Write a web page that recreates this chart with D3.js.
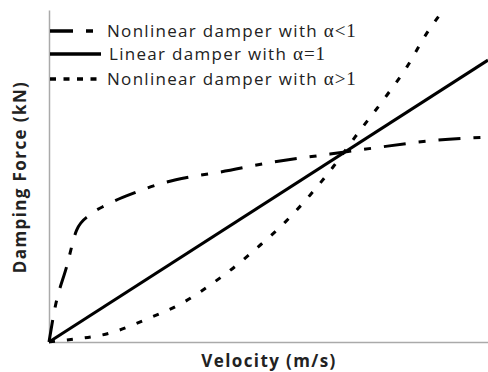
<!DOCTYPE html>
<html>
<head>
<meta charset="utf-8">
<script src="https://cdn.jsdelivr.net/npm/d3@7"></script>
<style>
  body { margin: 0; background: #fff; }
  text { font-family: "Open Sans", "Noto Sans", sans-serif; fill: #222; }
  .title { font-weight: bold; font-size: 17px; letter-spacing: 1.4px; }
  .legend { font-size: 17px; letter-spacing: 1.3px; }
  .alpha { font-family: "Liberation Serif", "DejaVu Serif", serif; font-size: 19px; letter-spacing: 1px; }
  .axis path { stroke: #aaa; stroke-width: 1.5; }
</style>
</head>
<body>
<script>
// velocity (0..1 of axis) vs damping force (0..1 of axis)
var vel_lt1   = [0, 0.014, 0.040, 0.063, 0.093, 0.131, 0.200, 0.260, 0.321, 0.390, 0.510, 0.640, 0.738, 0.884, 1.0];
var force_lt1 = [0, 0.105, 0.226, 0.337, 0.383, 0.413, 0.452, 0.479, 0.497, 0.512, 0.542, 0.566, 0.584, 0.608, 0.617];

var vel_eq1   = [0, 1.0];
var force_eq1 = [0, 0.849];

var vel_gt1   = [0, 0.041, 0.139, 0.223, 0.303, 0.374, 0.408, 0.476, 0.538, 0.595, 0.647, 0.697, 0.770, 0.815, 0.861, 0.890];
var force_gt1 = [0, 0.006, 0.027, 0.069, 0.117, 0.178, 0.211, 0.286, 0.361, 0.443, 0.527, 0.617, 0.744, 0.828, 0.931, 0.985];

var legendLabels = ["Nonlinear damper with ", "Linear damper with ", "Nonlinear damper with "];
var legendAlpha  = ["α<1", "α=1", "α>1"];

var W = 488, H = 372;
var svg = d3.select("body").append("svg").attr("width", W).attr("height", H);

var x = d3.scaleLinear().domain([0, 1]).range([49, 488]);
var y = d3.scaleLinear().domain([0, 1]).range([342, 10]);

svg.append("g").attr("class", "axis")
    .attr("transform", "translate(49,0)")
    .call(d3.axisLeft(y).tickValues([]).tickSizeOuter(0));
svg.append("g").attr("class", "axis")
    .attr("transform", "translate(0,342)")
    .call(d3.axisBottom(x).tickValues([]).tickSizeOuter(0));

var series = [
  {v: vel_lt1, f: force_lt1, dash: "22,13,7,13", legDash: "23,13,7,13"},
  {v: vel_eq1, f: force_eq1, dash: null, legDash: null},
  {v: vel_gt1, f: force_gt1, dash: "6,12", legDash: "6,7.5"}
];

var line = d3.line()
    .x(function(d) { return x(d[0]); })
    .y(function(d) { return y(d[1]); })
    .curve(d3.curveMonotoneX);

series.forEach(function(s) {
  var pts = s.v.map(function(v, i) { return [v, s.f[i]]; });
  svg.append("path")
      .datum(pts)
      .attr("d", line)
      .attr("fill", "none")
      .attr("stroke", "#000")
      .attr("stroke-width", 3)
      .attr("stroke-dasharray", s.dash);
});

// legend
var legY = [31, 54, 79];
var legEnd = [93, 101, 97];
series.forEach(function(s, i) {
  svg.append("line")
      .attr("x1", 50).attr("x2", legEnd[i])
      .attr("y1", legY[i]).attr("y2", legY[i])
      .attr("stroke", "#000").attr("stroke-width", 3.5)
      .attr("stroke-dasharray", s.legDash);
  var t = svg.append("text").attr("class", "legend")
      .attr("x", i == 1 ? 109 : 107).attr("y", legY[i] + 6);
  t.append("tspan").text(legendLabels[i]);
  t.append("tspan").attr("class", "alpha").text(legendAlpha[i]);
});

svg.append("text").attr("class", "title")
    .attr("text-anchor", "middle")
    .attr("transform", "translate(26,177) rotate(-90)")
    .text("Damping Force (kN)");
svg.append("text").attr("class", "title")
    .attr("text-anchor", "middle")
    .attr("x", 269).attr("y", 367)
    .text("Velocity (m/s)");
</script>
</body>
</html>
